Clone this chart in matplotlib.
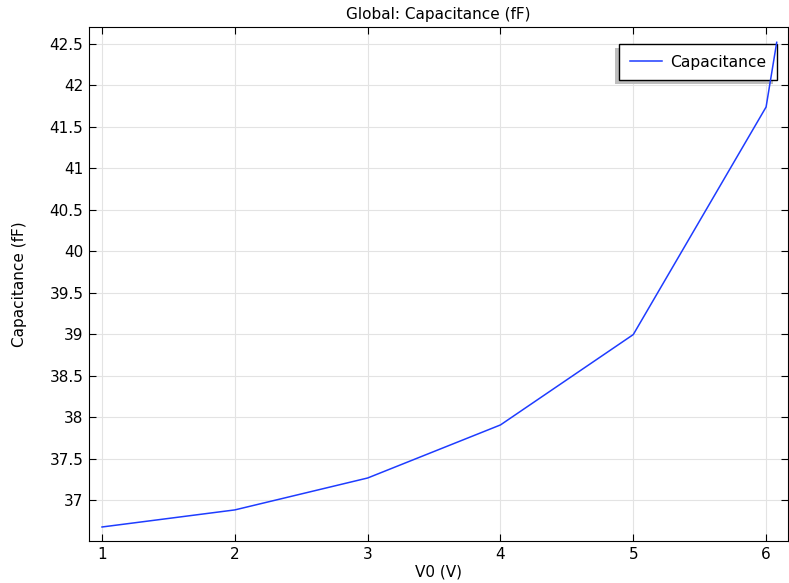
import numpy as np
import matplotlib.pyplot as plt
from matplotlib.patches import Rectangle

v0 = [1, 2, 3, 4, 5, 6, 6.08]
cap = [36.674, 36.88, 37.265, 37.905, 38.995, 41.74, 42.52]
yticks = [37, 37.5, 38, 38.5, 39, 39.5, 40, 40.5, 41, 41.5, 42, 42.5]
yticklabels = ['37', '37.5', '38', '38.5', '39', '39.5', '40', '40.5', '41', '41.5', '42', '42.5']

plt.rcParams['font.family'] = 'DejaVu Sans'
plt.rcParams['font.size'] = 11

fig = plt.figure(figsize=(7.89, 5.83), dpi=100)
ax = fig.add_axes([89/789, 42/583, 699/789, 514/583])

ax.plot(v0, cap, color='#1e3cff', lw=1.1, label='Capacitance', zorder=3)
ax.set_xlim(0.902, 6.165)
ax.set_ylim(36.505, 42.705)
ax.set_xticks([1, 2, 3, 4, 5, 6])
ax.set_yticks(yticks)
ax.set_yticklabels(yticklabels)
ax.grid(True, color='#e3e3e3', lw=0.8)
ax.set_axisbelow(True)
ax.tick_params(direction='in', top=True, right=True, length=5, width=0.8, pad=4)
for s in ax.spines.values():
    s.set_linewidth(0.8)

ax.set_title('Global: Capacitance (fF)', fontsize=11, pad=6)
ax.set_xlabel('V0 (V)', labelpad=2)
ax.set_ylabel('Capacitance (fF)', labelpad=16)

leg = ax.legend(loc='upper right', bbox_to_anchor=(0.984, 0.967), borderaxespad=0,
                fancybox=False, shadow=False, framealpha=1, edgecolor='black',
                borderpad=0.68, handlelength=2.1, handletextpad=0.5, fontsize=11.2)
leg.get_frame().set_linewidth(1.0)
leg.set_zorder(2)

# shadow offset down-left, drawn behind the legend box
fig.canvas.draw()
bb = leg.get_window_extent()
sh = Rectangle((bb.x0 - 4, bb.y0 - 4), bb.width, bb.height, transform=None,
               facecolor='#bdbdbd', edgecolor='none', zorder=1.9)
ax.add_artist(sh)

fig.savefig('out.png', dpi=100)
